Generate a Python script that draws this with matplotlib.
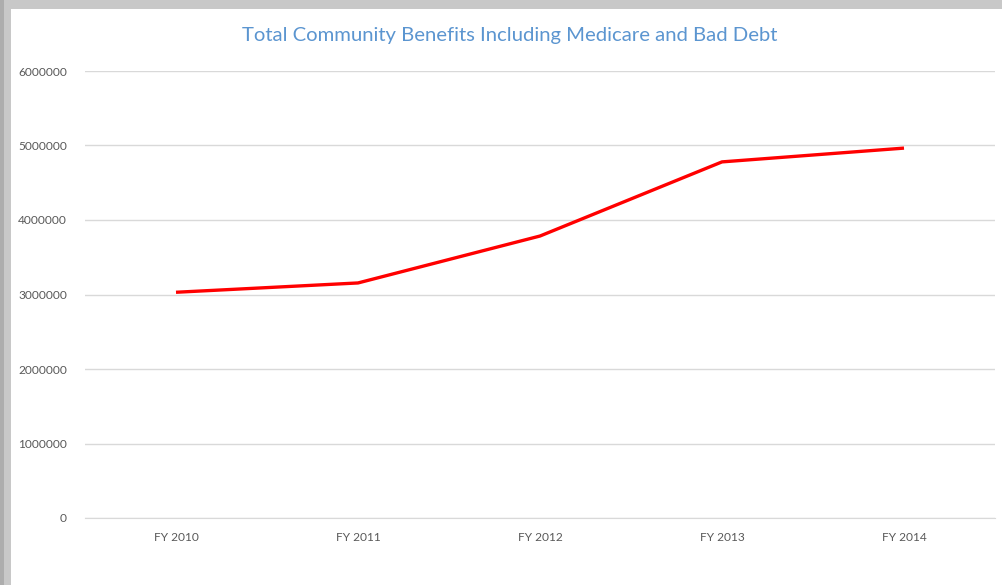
import matplotlib
matplotlib.use('Agg')
from matplotlib import pyplot as plt
from matplotlib.patches import Rectangle

# dados do grafico
anos = ['FY 2010', 'FY 2011', 'FY 2012', 'FY 2013', 'FY 2014']
beneficios = [3030000, 3155000, 3785000, 4780000, 4965000]
yticks = [0, 1000000, 2000000, 3000000, 4000000, 5000000, 6000000]

plt.rcParams['font.family'] = ['Lato', 'DejaVu Sans']

fig = plt.figure(figsize=(10.02, 5.85), dpi=100)
fig.patch.set_facecolor('white')

# sombra da moldura (esquerda e topo)
fig.patches.append(Rectangle((0, 0), 11 / 1002, 1, transform=fig.transFigure,
                             facecolor='#c8c8c8', edgecolor='none', zorder=0))
fig.patches.append(Rectangle((0, 1 - 9 / 585), 1, 9 / 585, transform=fig.transFigure,
                             facecolor='#c8c8c8', edgecolor='none', zorder=0))
fig.patches.append(Rectangle((0, 0), 4 / 1002, 1, transform=fig.transFigure,
                             facecolor='#adadad', edgecolor='none', zorder=0))

ax = fig.add_axes([85 / 1002, 67 / 585, 910 / 1002, 447 / 585])
x = range(len(anos))
ax.plot(x, beneficios, color='#ff0000', linewidth=2.4, solid_capstyle='butt')

ax.set_xlim(-0.5, len(anos) - 0.5)
ax.set_ylim(0, 6000000)
ax.set_yticks(yticks)
ax.set_yticklabels([str(v) for v in yticks])
ax.set_xticks(list(x))
ax.set_xticklabels(anos)

ax.grid(axis='y', color='#d9d9d9', linewidth=1)
ax.set_axisbelow(True)
for s in ['top', 'right', 'left']:
    ax.spines[s].set_visible(False)
ax.spines['bottom'].set_color('#d9d9d9')
ax.tick_params(axis='both', length=0, colors='#595959', labelsize=8.6)
ax.tick_params(axis='y', pad=13)
ax.tick_params(axis='x', pad=10)

fig.text(0.509, 1 - 35 / 585, 'Total Community Benefits Including Medicare and Bad Debt',
         ha='center', va='center', color='#5b95d0', fontsize=14.6)

fig.savefig('out.png', dpi=100)
